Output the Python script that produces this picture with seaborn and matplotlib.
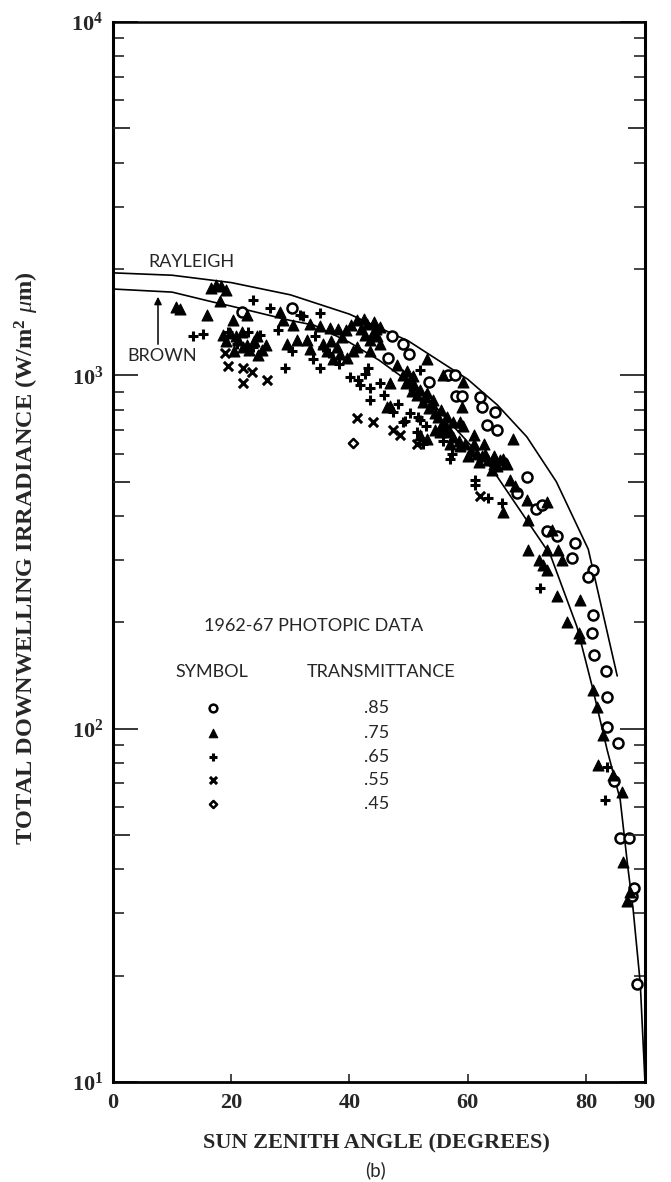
import matplotlib
matplotlib.use("Agg")
import matplotlib.pyplot as plt
import seaborn as sns

# ---------------- data ----------------
# Model curves (sun zenith angle in degrees, irradiance in W/m^2 um)
rayleigh_deg = [0, 10, 20, 30, 40, 50, 60, 65, 70, 75, 80.4, 85.3]
rayleigh_val = [1950, 1920, 1830, 1690, 1490, 1250, 975, 825, 670, 500, 322, 141]

brown_deg = [0, 10, 17, 20, 30, 34, 40, 45, 52, 58, 64, 70, 74, 78.5, 81.2,
             83.6, 85.8, 87.1, 88.0, 89.2, 90]
brown_val = [1755, 1720, 1611, 1570, 1430, 1387, 1240, 1104, 908, 705, 547, 389,
             310, 194, 129, 87, 63, 40.5, 30.7, 19, 10]

# Measurements, 1962-67 photopic data, by transmittance
t85_deg = [21.8, 30.3, 47.2, 49.1, 50.0, 46.5, 53.5, 56.6, 57.8, 58.0, 59.0, 62.1,
           62.4, 64.6, 63.3, 65.0, 70.0, 68.4, 71.5, 72.6, 73.5, 75.1, 78.2, 77.7,
           81.2, 80.4, 81.2, 81.0, 81.4, 83.4, 83.6, 83.6, 85.4, 84.8, 85.8, 87.3,
           87.8, 88.2, 88.7]
t85_val = [1510, 1550, 1290, 1230, 1150, 1120, 960, 1000, 1000, 875, 875, 870,
           815, 790, 725, 700, 515, 465, 418, 430, 362, 350, 335, 305,
           282, 268, 210, 187, 162, 146, 123, 101, 91, 71, 49, 49,
           33.5, 35.5, 19]

t75_deg = [10.6, 11.4, 15.9, 16.6, 17.5, 18.3, 19.1, 18.1, 20.3, 22.7,
           18.6, 19.8, 21.2, 22.6, 24.3, 20.4, 23.0, 24.6, 25.9, 21.8,
           28.3, 28.8, 29.4, 30.5, 31.1, 32.8, 33.3, 33.3, 35.0, 35.6,
           36.2, 36.7, 37.2, 37.9, 38.0, 38.4, 39.5, 39.6, 40.6, 41.3,
           41.3, 42.0, 42.6, 43.0, 43.5, 43.5, 44.0, 44.5, 44.7, 45.2,
           45.2, 46.4, 46.9, 46.9, 48.0, 49.5, 49.7, 50.5, 50.8, 51.5,
           51.9, 52.5, 53.1, 53.1, 53.1, 53.5, 54.1, 54.5, 55.3, 55.5,
           55.8, 55.5, 56.5, 56.5, 57.0, 57.5, 57.5, 58.5, 58.7, 58.7,
           59.1, 59.2, 59.2, 59.5, 60.5, 61.0, 61.0, 61.5, 62.5, 63.5,
           64.1, 64.5, 65.5, 66.0, 66.5, 66.7, 67.2, 67.7, 68.0, 70.0,
           70.2, 70.2, 72.0, 72.8, 73.4, 73.4, 73.5, 74.3, 75.1, 75.3,
           76.0, 76.8, 78.8, 79.0, 79.0, 81.2, 81.9, 82.1, 82.9, 84.6,
           86.1, 86.3, 87.0, 87.5,
           19.2, 20.8, 22.0, 23.8, 25.2, 36.8, 38.8, 40.2, 42.4, 44.2,
           49.0, 50.0, 51.0, 52.0, 52.8, 54.0, 55.0, 56.0, 54.5, 57.0,
           60.0, 62.0, 63.0, 64.5, 65.0, 66.0, 62.8]
t75_val = [1560, 1545, 1480, 1770, 1800, 1790, 1740, 1620, 1430, 1480,
           1300, 1320, 1260, 1220, 1290, 1170, 1180, 1140, 1215, 1330,
           1510, 1430, 1230, 1390, 1255, 1255, 1400, 1190, 1380, 1230,
           1175, 1365, 1110, 1200, 1350, 1150, 1340, 1120, 1175, 1430,
           1200, 1350, 1300, 1400, 1175, 1260, 1315, 1350, 1290, 1370,
           1230, 815, 950, 820, 1070, 950, 1030, 905, 995, 880,
           680, 840, 1115, 890, 660, 810, 851, 780, 690, 800,
           1000, 720, 760, 700, 690, 740, 670, 650, 740, 630,
           815, 955, 720, 640, 610, 680, 640, 600, 590, 575,
           540, 560, 575, 410, 565, 560, 505, 660, 485, 443,
           390, 320, 300, 290, 437, 320, 282, 365, 237, 320,
           300, 200, 187, 231, 180, 129, 115, 79, 96, 74,
           66, 42, 32.5, 34.5,
           1250, 1290, 1200, 1250, 1180, 1250, 1280, 1390, 1440, 1420,
           1000, 960, 940, 910, 870, 830, 760, 740, 700, 640,
           590, 570, 600, 590, 555, 580, 640]

t65_deg = [13.5, 15.2, 19.5, 22.8, 23.7, 23.7, 26.6, 27.9, 29.1, 30.3,
           31.6, 32.2, 33.9, 35.0, 35.0, 35.5, 40.1, 41.5, 41.8, 42.6,
           43.1, 43.5, 43.5, 45.2, 47.4, 49.0, 49.4, 51.6, 51.9, 51.9,
           51.4, 52.5, 57.0, 57.3, 61.3, 61.3, 63.5, 65.8, 72.3, 83.3, 83.6,
           21.0, 24.8, 34.2, 36.5, 38.3, 45.8, 48.2, 50.2, 53.0, 55.8]
t65_val = [1290, 1310, 1330, 1330, 1200, 1634, 1550, 1340, 1050, 1175,
           1480, 1470, 1115, 1500, 1050, 1200, 990, 970, 940, 1010,
           1050, 851, 920, 950, 790, 740, 745, 760, 1035, 747,
           690, 640, 580, 600, 505, 488, 450, 435, 250, 63, 78,
           1230, 1300, 1290, 1160, 1080, 880, 830, 780, 720, 650]

t55_deg = [19.0, 19.5, 22.0, 23.5, 22.0, 26.0, 41.3, 44.0, 47.4, 48.6, 51.4, 62.1]
t55_val = [1160, 1060, 1050, 1020, 950, 970, 757, 740, 700, 680, 640, 455]

t45_deg = [40.6]
t45_val = [645]

legend_values = [".85", ".75", ".65", ".55", ".45"]

yticks_major = [10, 100, 1000, 10000]
ytick_labels = [r"$\mathbf{10^{1}}$", r"$\mathbf{10^{2}}$",
                r"$\mathbf{10^{3}}$", r"$\mathbf{10^{4}}$"]
xticks = [0, 20, 40, 60, 80, 90]

# ---------------- style ----------------
sns.set_theme(style="white")
plt.rcParams["font.family"] = ["Liberation Serif", "DejaVu Serif"]
plt.rcParams["mathtext.fontset"] = "custom"
plt.rcParams["mathtext.rm"] = "Liberation Serif"
plt.rcParams["mathtext.bf"] = "Liberation Serif:bold"
plt.rcParams["mathtext.it"] = "Liberation Serif:italic"

SANS = ["Lato", "DejaVu Sans"]
W, H = 671, 1182
L, R, B, T = 113, 645, 1082, 22

fig = plt.figure(figsize=(W / 100, H / 100), dpi=100)
rect = [L / W, 1 - B / H, (R - L) / W, (B - T) / H]
ax = fig.add_axes(rect)

# ---------------- curves ----------------
sns.lineplot(x=rayleigh_deg, y=rayleigh_val, sort=False, estimator=None,
             color="black", lw=1.2, ax=ax)
sns.lineplot(x=brown_deg, y=brown_val, sort=False, estimator=None,
             color="black", lw=1.2, ax=ax)

# ---------------- markers ----------------
styles = {
    "t85": dict(marker="o", s=52, facecolor="white", edgecolor="black", linewidth=1.8),
    "t75": dict(marker="^", s=62, color="black", edgecolor="black", linewidth=0.8),
    "t65": dict(marker="+", s=62, color="black", linewidth=2.2),
    "t55": dict(marker="x", s=44, color="black", linewidth=2.2),
    "t45": dict(marker="D", s=22, facecolor="white", edgecolor="black", linewidth=1.8),
}
series = [("t85", t85_deg, t85_val), ("t75", t75_deg, t75_val),
          ("t65", t65_deg, t65_val), ("t55", t55_deg, t55_val),
          ("t45", t45_deg, t45_val)]
for key, xs, ys in series:
    sns.scatterplot(x=xs, y=ys, ax=ax, zorder=3, clip_on=False, **styles[key])

ax.set_yscale("log")
ax.set_xlim(0, 90)
ax.set_ylim(10, 10000)

# ---------------- axes frame & ticks ----------------
for side in ["left", "right", "bottom", "top"]:
    ax.spines[side].set_color("black")
ax.spines["left"].set_linewidth(2.2)
ax.spines["right"].set_linewidth(2.2)
ax.spines["bottom"].set_linewidth(2.0)
ax.spines["top"].set_linewidth(1.8)

ax.set_yticks(yticks_major)
ax.set_yticklabels(ytick_labels)
minor = [m * 10 ** e for e in range(1, 4) for m in range(2, 10) if m != 5]
ax.tick_params(axis="y", which="major", direction="in", length=18, width=1.3,
               left=True, right=True, labelsize=16, pad=7)

ax.set_xticks(xticks)
ax.set_xticklabels([str(v) for v in xticks], fontweight="bold")
ax.tick_params(axis="x", which="major", direction="in", length=6, width=1.2,
               bottom=True, top=False, labelsize=16, pad=8)
ax.minorticks_on()
ax.xaxis.set_tick_params(which="minor", bottom=False, top=False)
ax.set_yticks(minor, minor=True)
ax.tick_params(axis="y", which="minor", direction="in", length=8, width=1.2,
               left=True, right=True, labelleft=False)

# medium ticks at 5 x 10^n on a transparent overlay axes
ax5 = fig.add_axes(rect, frameon=False)
ax5.set_yscale("log")
ax5.set_ylim(10, 10000)
ax5.set_xlim(0, 90)
ax5.set_xticks([])
ax5.set_yticks([50, 500, 5000])
ax5.yaxis.set_minor_locator(matplotlib.ticker.NullLocator())
ax5.tick_params(axis="y", direction="in", length=12, width=1.3, left=True,
                right=True, labelleft=False, labelright=False)
ax5.patch.set_alpha(0)

ax.set_xlabel("")
ax.set_ylabel("")

# ---------------- labels ----------------
fig.text(27 / W, 1 - 558 / H,
         r"TOTAL DOWNWELLING IRRADIANCE (W/m$^{\mathbf{2}}$ $\mu$m)",
         rotation=90, ha="center", va="center", fontsize=17.5, fontweight="bold")
fig.text(376 / W, 1 - 1143 / H, "SUN ZENITH ANGLE (DEGREES)",
         ha="center", va="center", fontsize=16, fontweight="bold")
fig.text(376 / W, 1 - 1170 / H, "(b)", ha="center", va="center", fontsize=13.5,
         family=SANS)

# curve names and arrow
def axfrac(px, py):
    return (px - L) / (R - L), (B - py) / (B - T)

ax.text(*axfrac(191, 262), "RAYLEIGH", transform=ax.transAxes, ha="center",
        va="center", fontsize=13, family=SANS)
ax.text(*axfrac(162, 356), "BROWN", transform=ax.transAxes, ha="center",
        va="center", fontsize=13, family=SANS)
ax.annotate("", xy=axfrac(158, 294), xytext=axfrac(158, 347),
            xycoords="axes fraction", textcoords="axes fraction",
            arrowprops=dict(arrowstyle="-|>", color="black", lw=1.1,
                            mutation_scale=11))

# key block
ax.text(*axfrac(314, 626), "1962-67 PHOTOPIC DATA", transform=ax.transAxes,
        ha="center", va="center", fontsize=13, family=SANS)
ax.text(*axfrac(212, 672), "SYMBOL", transform=ax.transAxes,
        ha="center", va="center", fontsize=13, family=SANS)
ax.text(*axfrac(381, 672), "TRANSMITTANCE", transform=ax.transAxes,
        ha="center", va="center", fontsize=13, family=SANS)
rows_py = [708, 733, 757, 780, 804]
for (key, _, _), lab, py in zip(series, legend_values, rows_py):
    fx, fy = axfrac(213, py)
    kw = dict(styles[key])
    kw["s"] = kw["s"] * 0.6
    ax.scatter([fx], [fy], transform=ax.transAxes, zorder=3, **kw)
    ax.text(*axfrac(377, py), lab, transform=ax.transAxes, ha="center",
            va="center", fontsize=13, family=SANS)

fig.savefig("out.png", dpi=100, facecolor="white")
